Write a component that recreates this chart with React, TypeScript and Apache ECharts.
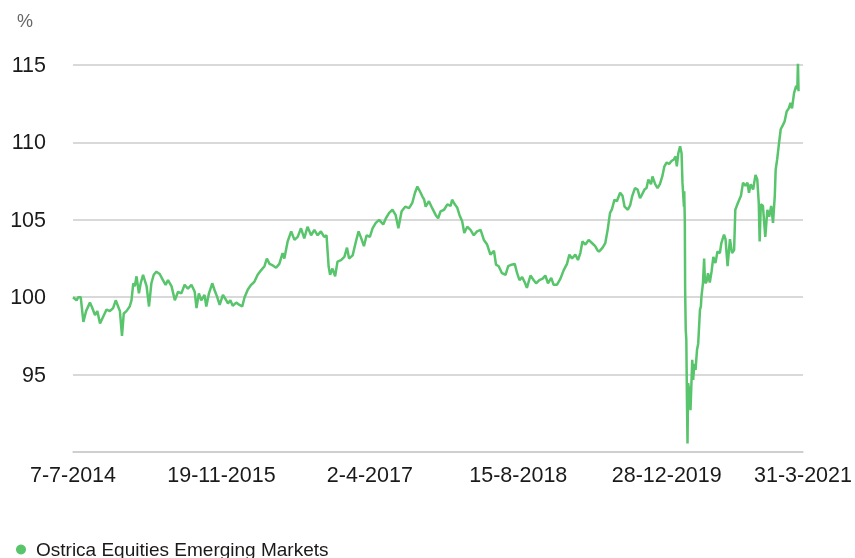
import React, { useEffect, useRef } from "react";
import * as echarts from "echarts";

const START = "2014-07-07";
const END = "2021-03-31";
const TICK_DAYS = 500;
const Y_MIN = 90;
const Y_MAX = 115;
const Y_STEP = 5;
const SERIES_NAME = "Ostrica Equities Emerging Markets";
const UNIT = "%";

const y2014: [string, number][] = [
  ["2014-07-07", 100.0], ["2014-07-19", 99.8], ["2014-07-25", 100.0], ["2014-08-02", 100.0],
  ["2014-08-11", 98.4], ["2014-08-20", 99.1], ["2014-09-02", 99.65], ["2014-09-08", 99.4],
  ["2014-09-19", 98.85], ["2014-09-27", 99.1], ["2014-10-06", 98.3], ["2014-10-17", 98.75],
  ["2014-10-28", 99.2], ["2014-11-08", 99.1], ["2014-11-19", 99.3], ["2014-11-28", 99.8],
  ["2014-12-06", 99.4], ["2014-12-12", 99.1], ["2014-12-19", 97.5], ["2014-12-25", 98.95],
];

const y2015: [string, number][] = [
  ["2015-01-03", 99.1], ["2015-01-14", 99.4], ["2015-01-20", 99.8], ["2015-01-26", 100.9],
  ["2015-01-31", 100.7], ["2015-02-06", 101.35], ["2015-02-14", 100.25], ["2015-02-20", 100.9],
  ["2015-02-28", 101.45], ["2015-03-12", 100.7], ["2015-03-20", 99.4], ["2015-03-28", 100.9],
  ["2015-04-05", 101.45], ["2015-04-14", 101.65], ["2015-04-25", 101.5], ["2015-05-06", 101.1],
  ["2015-05-15", 100.8], ["2015-05-23", 101.1], ["2015-06-04", 100.7], ["2015-06-15", 99.8],
  ["2015-06-26", 100.35], ["2015-07-07", 100.25], ["2015-07-18", 100.8], ["2015-07-29", 100.55],
  ["2015-08-10", 100.8], ["2015-08-21", 100.35], ["2015-08-27", 99.3], ["2015-09-04", 100.25],
  ["2015-09-12", 99.8], ["2015-09-23", 100.15], ["2015-09-29", 99.4], ["2015-10-08", 100.25],
  ["2015-10-19", 100.9], ["2015-10-27", 100.45], ["2015-11-04", 100.05], ["2015-11-13", 99.5],
  ["2015-11-24", 100.15], ["2015-12-02", 99.9], ["2015-12-11", 99.6], ["2015-12-19", 99.8],
  ["2015-12-27", 99.45],
];

const y2016: [string, number][] = [
  ["2016-01-08", 99.65], ["2016-01-19", 99.5], ["2016-01-28", 99.4], ["2016-02-05", 100.0],
  ["2016-02-16", 100.5], ["2016-02-27", 100.8], ["2016-03-09", 101.0], ["2016-03-20", 101.45],
  ["2016-04-01", 101.75], ["2016-04-12", 102.0], ["2016-04-20", 102.5], ["2016-04-29", 102.15],
  ["2016-05-10", 102.05], ["2016-05-21", 101.9], ["2016-06-01", 102.15], ["2016-06-12", 102.85],
  ["2016-06-18", 102.5], ["2016-06-29", 103.6], ["2016-07-11", 104.25], ["2016-07-22", 103.7],
  ["2016-08-02", 103.9], ["2016-08-13", 104.45], ["2016-08-24", 103.8], ["2016-09-04", 104.55],
  ["2016-09-16", 104.0], ["2016-09-27", 104.35], ["2016-10-08", 104.0], ["2016-10-19", 104.25],
  ["2016-10-30", 103.9], ["2016-11-07", 104.0], ["2016-11-14", 102.0], ["2016-11-19", 101.45],
  ["2016-11-27", 101.85], ["2016-12-06", 101.35], ["2016-12-14", 102.3], ["2016-12-26", 102.4],
];

const y2017: [string, number][] = [
  ["2017-01-06", 102.6], ["2017-01-15", 103.2], ["2017-01-22", 102.5], ["2017-02-03", 102.7],
  ["2017-02-14", 103.6], ["2017-02-23", 104.25], ["2017-03-04", 103.8], ["2017-03-13", 103.3],
  ["2017-03-22", 104.0], ["2017-04-02", 103.9], ["2017-04-11", 104.45], ["2017-04-22", 104.8],
  ["2017-05-03", 105.0], ["2017-05-17", 104.7], ["2017-05-26", 105.1], ["2017-06-06", 105.45],
  ["2017-06-17", 105.65], ["2017-06-28", 105.3], ["2017-07-07", 104.45], ["2017-07-18", 105.55],
  ["2017-07-30", 105.85], ["2017-08-12", 105.75], ["2017-08-23", 106.1], ["2017-09-01", 106.75],
  ["2017-09-09", 107.15], ["2017-09-20", 106.75], ["2017-09-26", 106.5], ["2017-10-02", 106.3],
  ["2017-10-07", 105.85], ["2017-10-18", 106.2], ["2017-10-29", 105.75], ["2017-11-10", 105.3],
  ["2017-11-18", 105.1], ["2017-11-26", 105.55], ["2017-12-08", 105.65], ["2017-12-19", 106.0],
  ["2017-12-30", 105.9],
];

const y2018: [string, number][] = [
  ["2018-01-04", 106.3], ["2018-01-13", 106.0], ["2018-01-21", 105.8], ["2018-01-29", 105.3],
  ["2018-02-07", 104.9], ["2018-02-14", 104.15], ["2018-02-24", 104.55], ["2018-03-07", 104.35],
  ["2018-03-18", 104.0], ["2018-03-29", 104.25], ["2018-04-10", 104.35], ["2018-04-21", 103.7],
  ["2018-05-02", 103.4], ["2018-05-13", 102.75], ["2018-05-25", 103.0], ["2018-06-01", 102.1],
  ["2018-06-10", 102.0], ["2018-06-21", 101.55], ["2018-07-03", 101.45], ["2018-07-12", 102.0],
  ["2018-07-23", 102.1], ["2018-08-03", 102.15], ["2018-08-11", 101.55], ["2018-08-19", 101.1],
  ["2018-08-28", 101.3], ["2018-09-06", 100.95], ["2018-09-13", 100.6], ["2018-09-25", 101.4],
  ["2018-10-06", 101.1], ["2018-10-14", 100.9], ["2018-10-25", 101.1], ["2018-11-05", 101.2],
  ["2018-11-14", 101.4], ["2018-11-23", 100.9], ["2018-12-04", 101.25], ["2018-12-12", 100.8],
  ["2018-12-23", 100.8],
];

const y2019: [string, number][] = [
  ["2019-01-04", 101.2], ["2019-01-15", 101.75], ["2019-01-26", 102.15], ["2019-02-03", 102.75],
  ["2019-02-12", 102.5], ["2019-02-23", 102.75], ["2019-03-04", 102.4], ["2019-03-12", 102.85],
  ["2019-03-19", 103.6], ["2019-03-29", 103.4], ["2019-04-09", 103.7], ["2019-04-20", 103.5],
  ["2019-05-01", 103.3], ["2019-05-10", 103.0], ["2019-05-14", 102.95], ["2019-05-26", 103.2],
  ["2019-06-04", 103.5], ["2019-06-12", 104.35], ["2019-06-20", 105.45], ["2019-06-26", 105.65],
  ["2019-07-05", 106.3], ["2019-07-13", 106.2], ["2019-07-24", 106.75], ["2019-08-01", 106.55],
  ["2019-08-08", 105.85], ["2019-08-19", 105.65], ["2019-08-27", 105.95], ["2019-09-03", 106.55],
  ["2019-09-12", 107.05], ["2019-09-21", 106.95], ["2019-09-29", 106.4], ["2019-10-05", 106.6],
  ["2019-10-14", 106.95], ["2019-10-21", 107.05], ["2019-10-27", 107.6], ["2019-11-05", 107.3],
  ["2019-11-10", 107.8], ["2019-11-19", 107.3], ["2019-11-27", 107.05], ["2019-12-05", 107.3],
  ["2019-12-13", 107.8], ["2019-12-20", 108.45], ["2019-12-28", 108.7],
];

const y2020: [string, number][] = [
  ["2020-01-05", 108.6], ["2020-01-13", 108.8], ["2020-01-21", 108.9], ["2020-01-27", 109.1],
  ["2020-01-31", 108.45], ["2020-02-05", 109.3], ["2020-02-11", 109.75], ["2020-02-16", 109.3],
  ["2020-02-19", 107.4], ["2020-02-24", 105.85], ["2020-02-25", 106.85], ["2020-02-27", 104.8],
  ["2020-02-28", 100.5], ["2020-03-01", 97.9], ["2020-03-03", 97.25], ["2020-03-05", 93.55],
  ["2020-03-07", 90.55], ["2020-03-09", 94.45], ["2020-03-14", 93.8], ["2020-03-17", 92.7],
  ["2020-03-23", 95.95], ["2020-03-26", 94.65], ["2020-03-30", 95.7], ["2020-04-03", 95.3],
  ["2020-04-08", 96.6], ["2020-04-12", 97.0], ["2020-04-18", 99.2], ["2020-04-21", 99.4],
  ["2020-04-23", 100.05], ["2020-04-28", 100.9], ["2020-05-02", 102.5], ["2020-05-04", 101.35],
  ["2020-05-06", 100.9], ["2020-05-10", 101.0], ["2020-05-15", 101.55], ["2020-05-21", 100.95],
  ["2020-05-27", 101.65], ["2020-06-02", 102.6], ["2020-06-09", 102.2], ["2020-06-16", 102.95],
  ["2020-06-24", 102.85], ["2020-06-29", 103.5], ["2020-07-08", 104.05], ["2020-07-13", 103.75],
  ["2020-07-20", 102.0], ["2020-07-28", 103.75], ["2020-08-04", 102.85], ["2020-08-11", 103.05],
  ["2020-08-15", 105.65], ["2020-08-24", 106.1], ["2020-09-03", 106.55], ["2020-09-10", 107.4],
  ["2020-09-18", 107.2], ["2020-09-25", 107.4], ["2020-09-30", 106.75], ["2020-10-06", 107.3],
  ["2020-10-14", 106.95], ["2020-10-22", 107.9], ["2020-10-28", 107.6], ["2020-11-02", 106.1],
  ["2020-11-05", 103.6], ["2020-11-09", 106.0], ["2020-11-16", 105.9], ["2020-11-24", 103.9],
  ["2020-12-01", 105.65], ["2020-12-07", 105.2], ["2020-12-14", 105.9], ["2020-12-20", 104.8],
  ["2020-12-26", 106.55], ["2020-12-29", 108.25],
];

const y2021: [string, number][] = [
  ["2021-01-03", 108.9], ["2021-01-08", 109.75], ["2021-01-15", 110.85], ["2021-01-23", 111.15],
  ["2021-01-28", 111.35], ["2021-02-04", 112.0], ["2021-02-11", 112.2], ["2021-02-17", 112.55],
  ["2021-02-22", 112.2], ["2021-03-01", 113.2], ["2021-03-08", 113.65], ["2021-03-12", 113.45],
  ["2021-03-14", 115.15], ["2021-03-16", 113.3], ["2021-03-18", 113.3],
];

const DAY_MS = 86400000;
const startMs = Date.parse(START);
const toDay = (d: string) => Math.round((Date.parse(d) - startMs) / DAY_MS);
const fmtDay = (v: number) => {
  const dt = new Date(startMs + v * DAY_MS);
  return `${dt.getUTCDate()}-${dt.getUTCMonth() + 1}-${dt.getUTCFullYear()}`;
};

const FONT = "'Liberation Sans', Arial, Helvetica, sans-serif";
const GREEN = "#58c46b";
const GRID = "#cccccc";

export default function App() {
  const ref = useRef<HTMLDivElement>(null);
  useEffect(() => {
    if (!ref.current) return;
    const chart = echarts.init(ref.current, undefined, { renderer: "svg" });
    const all = [...y2014, ...y2015, ...y2016, ...y2017, ...y2018, ...y2019, ...y2020, ...y2021];
    const data = all.map(([d, v]) => [toDay(d), v]);
    chart.setOption({
      animation: false,
      textStyle: { fontFamily: FONT },
      grid: { left: 73, right: 50, top: 65, bottom: 106 },
      xAxis: {
        type: "value",
        min: 0,
        max: toDay(END),
        interval: TICK_DAYS,
        axisLine: { show: true, lineStyle: { color: GRID, width: 1.5 } },
        axisTick: { show: false },
        splitLine: { show: false },
        axisLabel: {
          showMinLabel: true,
          showMaxLabel: true,
          formatter: (v: number) => fmtDay(v),
          fontSize: 21.5,
          color: "#1a1a1a",
          margin: 12,
          fontFamily: FONT,
        },
      },
      yAxis: {
        type: "value",
        min: Y_MIN,
        max: Y_MAX,
        interval: Y_STEP,
        axisLine: { show: false },
        axisTick: { show: false },
        splitLine: { lineStyle: { color: GRID, width: 1.5 } },
        axisLabel: {
          formatter: (v: number) => (v === Y_MIN ? "" : String(v)),
          fontSize: 21.5,
          color: "#1a1a1a",
          margin: 27,
          fontFamily: FONT,
        },
      },
      legend: {
        left: 11,
        top: 535,
        icon: "circle",
        itemWidth: 10,
        itemHeight: 10,
        textStyle: { fontSize: 19, color: "#1a1a1a", fontFamily: FONT, padding: [0, 0, 0, 5] },
        data: [SERIES_NAME],
      },
      graphic: [
        {
          type: "text",
          left: 17,
          top: 12,
          style: { text: UNIT, fontSize: 18, fill: "#666666", fontFamily: FONT },
        },
      ],
      series: [
        {
          type: "line",
          name: SERIES_NAME,
          data,
          showSymbol: false,
          symbol: "circle",
          lineStyle: { color: GREEN, width: 2.5 },
          itemStyle: { color: GREEN },
        },
      ],
    });
    return () => chart.dispose();
  }, []);
  return (
    <div
      ref={ref}
      style={{ position: "fixed", left: 0, top: 0, width: 855, height: 558 }}
    />
  );
}
